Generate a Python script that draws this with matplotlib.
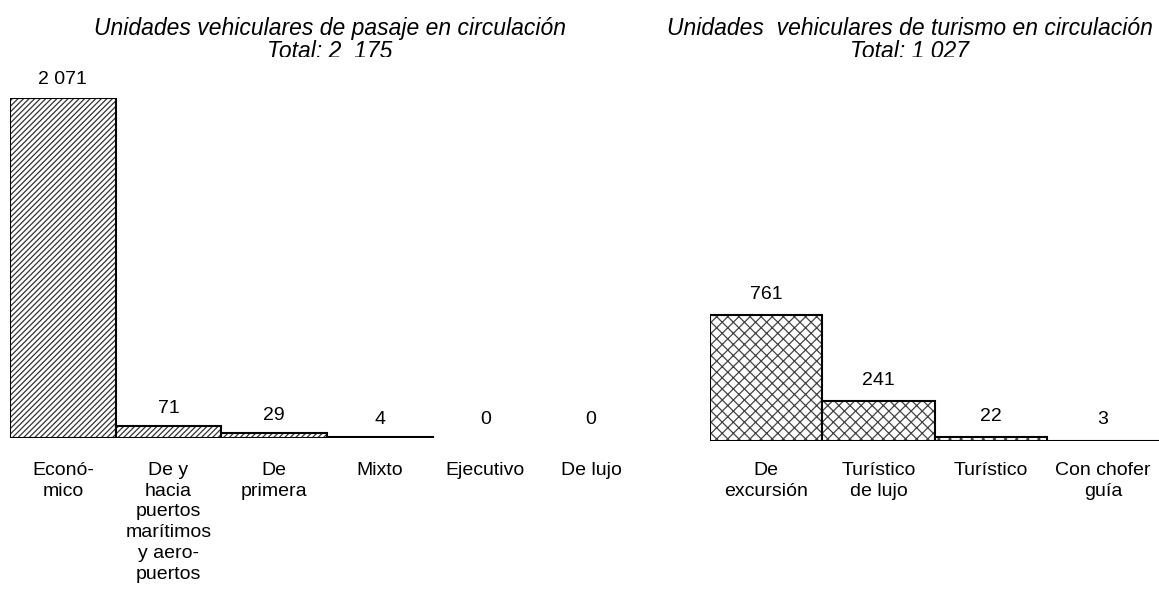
import matplotlib

matplotlib.use("Agg")
import matplotlib.pyplot as plt
from matplotlib.transforms import Bbox, TransformedBbox

W, H = 1159, 610

pasaje_cats = ["Econó-\nmico", "De y\nhacia\npuertos\nmarítimos\ny aero-\npuertos",
               "De\nprimera", "Mixto", "Ejecutivo", "De lujo"]
pasaje_vals = [2071, 71, 29, 4, 0, 0]
pasaje_lbls = ["2 071", "71", "29", "4", "0", "0"]

turismo_cats = ["De\nexcursión", "Turístico\nde lujo", "Turístico", "Con chofer\nguía"]
turismo_vals = [761, 241, 22, 3]
turismo_lbls = ["761", "241", "22", "3"]

plt.rcParams["font.family"] = ["Liberation Sans", "DejaVu Sans"]
plt.rcParams["hatch.linewidth"] = 0.9

fig = plt.figure(figsize=(W / 100, H / 100), dpi=100)
fig.patch.set_facecolor("white")


def px_axes(x0, x1, ybase, ytop):
    """Axes from screen-pixel box (y grows downward)."""
    return fig.add_axes([x0 / W, (H - ybase) / H, (x1 - x0) / W, (ybase - ytop) / H])


def panel(ax, cats, vals, lbls, hatch, hcolor, off, pad, ymax):
    xs = range(len(cats))
    edges = ["black" if v > 0 else "none" for v in vals]
    bars = ax.bar(xs, vals, width=1.0, color="white", edgecolor=edges,
                  linewidth=1.5, hatch=hatch)
    for b in bars:
        b._hatch_color = matplotlib.colors.to_rgba(hcolor)
    for x, v, s in zip(xs, vals, lbls):
        ax.annotate(s, (x, v), xytext=(0, off), textcoords="offset points",
                    ha="center", va="center", fontsize=14, annotation_clip=False)
    ax.set_xlim(-0.5, len(cats) - 0.5)
    ax.set_ylim(0, ymax)
    ax.set_xticks(list(xs))
    ax.set_xticklabels(cats, fontsize=14, linespacing=1.3, va="top")
    ax.tick_params(axis="x", length=0, pad=pad)
    ax.set_yticks([])
    for s in ax.spines.values():
        s.set_visible(False)
    ax.patch.set_alpha(0)


ax1 = px_axes(10, 644, 438, 98)
panel(ax1, pasaje_cats, pasaje_vals, pasaje_lbls, "//////", "#333333", 13, 17, 2071)

ax2 = px_axes(710, 1159, 441, 98)
panel(ax2, turismo_cats, turismo_vals, turismo_lbls, "xxx", "#444444", 15, 15, 2071)

# titles (second line is cut off at the bottom, as in the source image)
clip = TransformedBbox(Bbox([[0, (H - 57) / H], [1, 1]]), fig.transFigure)
for cx, txt in [(330, "Unidades vehiculares de pasaje en circulación\nTotal: 2  175"),
                (910, "Unidades  vehiculares de turismo en circulación\nTotal: 1 027")]:
    t = fig.text(cx / W, (H - 40) / H, txt, ha="center", va="center",
                 fontsize=16.5, style="italic", linespacing=1.05)
    t.set_clip_box(clip)
    t.set_clip_on(True)

fig.savefig("out.png", dpi=100, facecolor="white")
